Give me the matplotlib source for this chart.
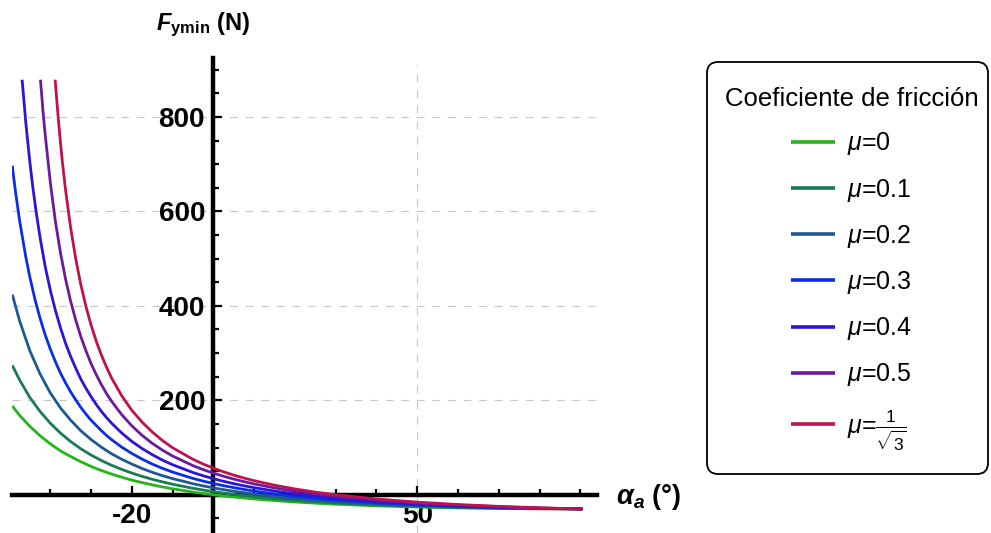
import matplotlib
matplotlib.use("Agg")
import matplotlib.pyplot as plt
from matplotlib.ticker import FixedLocator, MultipleLocator
from matplotlib.patches import FancyBboxPatch
from matplotlib.transforms import IdentityTransform

plt.rcParams['font.family'] = ['Liberation Sans', 'DejaVu Sans']
plt.rcParams['axes.unicode_minus'] = False
plt.rcParams['mathtext.fontset'] = 'custom'
plt.rcParams['mathtext.rm'] = 'Liberation Sans'
plt.rcParams['mathtext.it'] = 'Liberation Sans:italic'
plt.rcParams['mathtext.bf'] = 'Liberation Sans:bold'
plt.rcParams['mathtext.bfit'] = 'Liberation Sans:bold:italic'

# values (alpha in degrees, F in N)
alpha_low = [-49.3, -47.5, -45, -42.5, -40, -37.5, -35, -32.5, -30, -27.5, -25, -22.5, -20, -17.5,
             -15, -12.5, -10, -5, -2.5, 0, 2.5, 5, 7.5, 10, 15, 20, 25, 30, 40, 50, 60, 70, 80, 90.5]

alpha_mu00 = alpha_low
f_mu00 = [188, 168, 145, 125, 108, 93, 81, 70, 60, 51.5, 44, 37.2, 31, 25.8,
          21, 16.6, 12.6, 5.7, 2.7, 0, -2.5, -4.8, -6.9, -8.9, -12.3, -15.3, -17.8, -20, -23.5, -26,
          -27.8, -29.1, -29.8, -30]

alpha_mu01 = alpha_low
f_mu01 = [274, 243, 206, 176.5, 151.6, 130.6, 112.7, 97.4, 84.2, 72.7, 62.6, 53.8, 46, 39,
          32.8, 27.3, 22.3, 13.7, 10, 6.6, 3.6, 0.8, -1.8, -4.2, -8.3, -11.9, -14.9, -17.5, -21.6,
          -24.7, -26.9, -28.5, -29.5, -30]

alpha_mu02 = alpha_low
f_mu02 = [424, 368, 305, 256, 216, 184, 158, 135.5, 117, 101, 87, 75.2, 65, 55.7,
          47.6, 40.5, 34.2, 23.4, 18.8, 14.6, 10.8, 7.4, 4.3, 1.4, -3.6, -7.9, -11.5, -14.6, -19.5,
          -23.2, -25.9, -27.8, -29.2, -30.1]

alpha_mu03 = [-49.3, -49, -48.5, -47.5, -46, -45, -43.75, -42.5, -41.25, -40, -38.75, -37.5, -36.25,
              -35, -33.75, -32.5, -31.25, -30, -28.75, -27.5, -26.25, -25, -22.5, -20, -17.5, -15,
              -12.5, -10, -5, -2.5, 0, 2.5, 5, 7.5, 10, 15, 20, 25, 30, 40, 50, 60, 70, 80, 90.5]
f_mu03 = [697, 675, 641, 580, 504, 461, 414, 374, 339, 309, 282, 258, 237,
          218, 201, 185, 171, 158, 147, 136, 126, 117, 101, 87.5, 75.6, 65,
          56.1, 48, 34.6, 28.9, 23.8, 19.2, 15.1, 11.3, 7.8, 1.8, -3.2, -7.5, -11.2, -17, -21.4,
          -24.6, -27.1, -28.8, -30.1]

alpha_mu04 = [-46.9, -46.5, -46, -45, -44.25, -43.5, -42.5, -41.25, -40, -38.75, -37.5, -36.25, -35,
              -33.75, -32.5, -31.25, -30, -28.75, -27.5, -26.25, -25, -22.5, -20, -17.5, -15, -12.5,
              -10, -5, -2.5, 0, 2.5, 5, 7.5, 10, 15, 20, 25, 30, 40, 50, 60, 70, 80, 90.5]
f_mu04 = [879, 840, 789, 705, 650, 602, 545, 484, 434, 391, 354, 321, 293,
          268, 245, 225.5, 208, 191.6, 177, 164, 152, 131, 113, 98, 85, 73.5,
          63.6, 47.1, 40.2, 34, 28.5, 23.5, 19, 15, 7.9, 1.9, -3.1, -7.4, -14.3, -19.4, -23.3,
          -26.2, -28.4, -30.1]

alpha_mu05 = [-42.4, -41.75, -41.25, -40, -38.75, -37.5, -36.25, -35, -33.75, -32.5, -31.25, -30,
              -28.75, -27.5, -26.25, -25, -22.5, -20, -17.5, -15, -12.5, -10, -5, -2.5, 0, 2.5, 5,
              7.5, 10, 15, 20, 25, 30, 40, 50, 60, 70, 80, 90.5]
f_mu05 = [879, 810, 764, 663, 580, 513, 457, 410, 370, 335, 305, 278,
          255, 234, 215, 198.5, 170, 146, 126, 109, 94.6, 82, 61.7, 53.3, 45.8, 39.1, 33.2,
          27.8, 22.9, 14.5, 7.5, 1.6, -3.3, -11.3, -17.3, -21.8, -25.3, -28, -30.2]

alpha_mu06 = [-38.8, -38, -37.5, -37, -36.25, -35, -33.75, -32.5, -31.25, -30, -28.75, -27.5, -26.25,
              -25, -22.5, -20, -17.5, -15, -12.5, -10, -5, -2.5, 0, 2.5, 5, 7.5, 10, 15, 20, 25, 30,
              40, 50, 60, 70, 80, 90.5]
f_mu06 = [879, 794, 747, 703, 646, 566, 500, 445, 399, 360, 326, 297, 271,
          248, 210, 179, 154, 133, 115, 99.6, 75, 65.1, 56.3, 48.5, 41.6, 35.4, 29.8, 20.2, 12.3,
          5.6, 0, -8.9, -15.6, -20.7, -24.6, -27.7, -30.2]

labels = [r'$\mu$=0', r'$\mu$=0.1', r'$\mu$=0.2', r'$\mu$=0.3', r'$\mu$=0.4', r'$\mu$=0.5',
          r'$\mu$=$\frac{1}{\sqrt{3}}$']
colors = ['#25b41a', '#187c52', '#1d5a94', '#0a2ee6', '#2c14d8', '#6b1a9e', '#c0104f']

xticks = [-20, 50]
xtick_labels = ['-20', '50']
yticks = [200, 400, 600, 800]
ytick_labels = ['200', '400', '600', '800']
grid_x = [50]
grid_y = [200, 400, 600, 800]

series = [(alpha_mu00, f_mu00), (alpha_mu01, f_mu01), (alpha_mu02, f_mu02), (alpha_mu03, f_mu03),
          (alpha_mu04, f_mu04), (alpha_mu05, f_mu05), (alpha_mu06, f_mu06)]

fig = plt.figure(figsize=(9.91, 5.33), dpi=100)
ax = fig.add_axes([12.3 / 991, 0, 584.4 / 991, 475 / 533])
ax.set_xlim(-49.3, 94)
ax.set_ylim(-81, 925)

for g in grid_y:
    ax.axhline(g, color='#c8c8c8', lw=0.8, dashes=(7, 7), zorder=0)
for g in grid_x:
    ax.axvline(g, ymax=0.985, color='#c8c8c8', lw=0.8, dashes=(7, 7), zorder=0)

lines = []
for (a, f), c, lab in zip(series, colors, labels):
    ln, = ax.plot(a, f, color=c, lw=2.0, label=lab, solid_capstyle='butt',
                  solid_joinstyle='round', zorder=3)
    lines.append(ln)

for side in ['top', 'right']:
    ax.spines[side].set_visible(False)
for side in ['left', 'bottom']:
    ax.spines[side].set_position(('data', 0))
    ax.spines[side].set_linewidth(3.2)
    ax.spines[side].set_zorder(2)

ax.xaxis.set_major_locator(FixedLocator(xticks))
ax.set_xticklabels(xtick_labels)
ax.xaxis.set_minor_locator(MultipleLocator(10))
ax.yaxis.set_major_locator(FixedLocator(yticks))
ax.set_yticklabels(ytick_labels)
ax.yaxis.set_minor_locator(MultipleLocator(50))
ax.tick_params(which='both', direction='in', width=1.6, color='black')
ax.tick_params(which='major', length=6.5, pad=6, labelsize=20)
ax.tick_params(which='minor', length=4)
for t in ax.get_xticklabels() + ax.get_yticklabels():
    t.set_fontweight('bold')

fig.text(203 / 991, 1 - 25 / 533, r'$\mathbfit{F}_{\mathbf{ymin}}$ (N)', fontsize=17,
         fontweight='bold', ha='center', va='center')
fig.text(616 / 991, 1 - 497 / 533, r'$\mathbfit{\alpha}_{\mathbfit{a}}$ (°)', fontsize=19.5,
         fontweight='bold', ha='left', va='center')

# legend frame (rounded box) drawn in pixel coordinates
frame = FancyBboxPatch((707, 533 - 474), 281, 412, boxstyle='round,pad=0,rounding_size=11',
                       transform=IdentityTransform(), facecolor='white', edgecolor='black',
                       linewidth=1.3, zorder=1)
fig.add_artist(frame)

leg = fig.legend(handles=lines, labels=labels, loc='upper left',
                 bbox_to_anchor=(710 / 991, 1 - 72 / 533), borderaxespad=0,
                 title='Coeficiente de fricción', title_fontsize=18.5, fontsize=18,
                 handlelength=1.75, handletextpad=0.5, labelspacing=0.77, borderpad=0.6,
                 frameon=False)
leg.set_zorder(5)
for h in leg.get_lines():
    h.set_linewidth(2.6)

fig.savefig('out.png', dpi=100)
